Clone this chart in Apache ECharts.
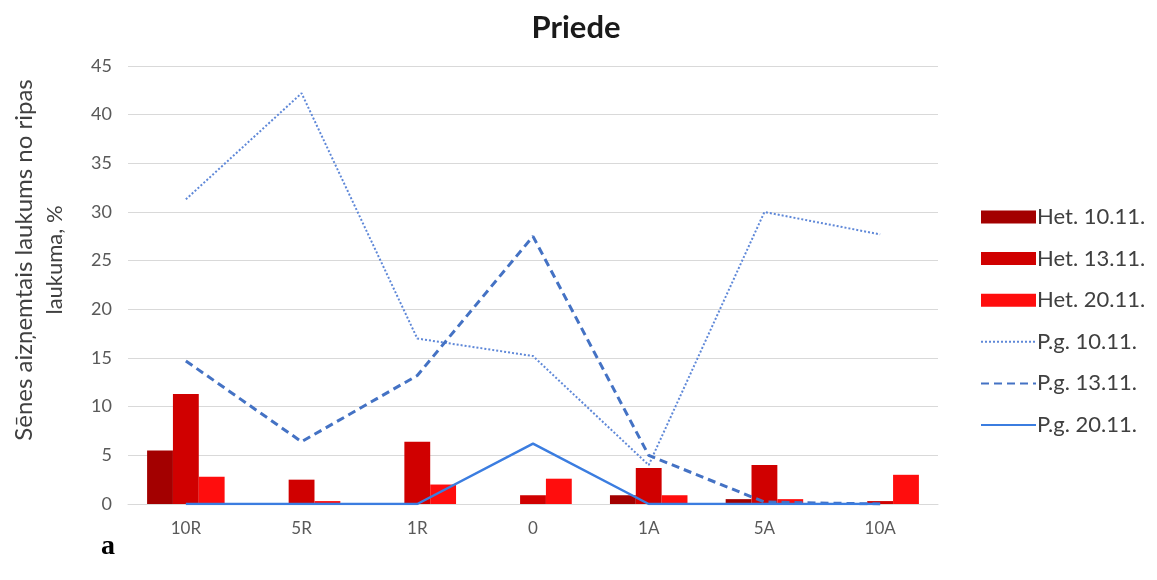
<!DOCTYPE html>
<html>
<head>
<meta charset="utf-8">
<script src="https://cdn.jsdelivr.net/npm/echarts@6/dist/echarts.min.js"></script>
<style>
html,body{margin:0;padding:0;background:#fff;}
#chart{width:1157px;height:580px;}
</style>
</head>
<body>
<div id="chart"></div>
<script>
const categories = ['10R', '5R', '1R', '0', '1A', '5A', '10A'];
const yTicks = [0, 5, 10, 15, 20, 25, 30, 35, 40, 45];

const het1011 = [5.5, 0, 0, 0, 0.9, 0.5, 0];
const het1311 = [11.3, 2.5, 6.4, 0.9, 3.7, 4.0, 0.3];
const het2011 = [2.8, 0.3, 2.0, 2.6, 0.9, 0.5, 3.0];

const pg1011 = [31.3, 42.2, 17.0, 15.2, 4.0, 30.0, 27.7];
const pg1311 = [14.7, 6.4, 13.2, 27.5, 5.0, 0.2, 0];
const pg2011 = [0, 0, 0, 6.2, 0, 0, 0];

const seriesNames = ['Het. 10.11.', 'Het. 13.11.', 'Het. 20.11.', 'P.g. 10.11.', 'P.g. 13.11.', 'P.g. 20.11.'];

const chart = echarts.init(document.getElementById('chart'));
const font = 'Lato, "Open Sans", sans-serif';
const barColors = ['#a30000', '#d00000', '#ff0d0d'];
const lineColors = ['#5f88d8', '#4472c4', '#3b7de0'];

chart.setOption({
  animation: false,
  backgroundColor: '#fff',
  title: {
    text: 'Priede',
    left: 571,
    top: 7,
    textAlign: 'center',
    textStyle: { fontFamily: font, fontWeight: 'bold', fontSize: 31, color: '#1a1a1a' }
  },
  legend: {
    orient: 'vertical',
    left: 975,
    top: 200,
    itemWidth: 55,
    itemHeight: 13,
    itemGap: 17.6,
    textStyle: { fontFamily: font, fontSize: 22, color: '#404040', lineHeight: 24, padding: [0, 0, 0, -4] },
    data: [
      { name: seriesNames[0], icon: 'rect' },
      { name: seriesNames[1], icon: 'rect' },
      { name: seriesNames[2], icon: 'rect' },
      { name: seriesNames[3], itemStyle: { opacity: 0 } },
      { name: seriesNames[4], itemStyle: { opacity: 0 } },
      { name: seriesNames[5], itemStyle: { opacity: 0 } }
    ]
  },
  grid: { left: 128, right: 219, top: 66, bottom: 76 },
  xAxis: {
    type: 'category',
    data: categories,
    axisTick: { show: false },
    axisLine: { lineStyle: { color: '#d9d9d9', width: 1 } },
    axisLabel: { fontFamily: font, fontSize: 17, color: '#595959', margin: 16 }
  },
  yAxis: {
    type: 'value',
    min: yTicks[0],
    max: yTicks[yTicks.length - 1],
    interval: 5,
    axisLine: { show: false },
    axisTick: { show: false },
    axisLabel: { fontFamily: font, fontSize: 18, color: '#595959', margin: 16 },
    splitLine: { lineStyle: { color: '#d9d9d9', width: 1 } }
  },
  graphic: [
    {
      type: 'text',
      x: 24, y: 260, rotation: Math.PI / 2,
      style: { text: 'Sēnes aizņemtais laukums no ripas', font: '24px Lato, "Open Sans", sans-serif', fill: '#404040', align: 'center', verticalAlign: 'middle' }
    },
    {
      type: 'text',
      x: 55, y: 260, rotation: Math.PI / 2,
      style: { text: 'laukuma, %', font: '22px Lato, "Open Sans", sans-serif', fill: '#404040', align: 'center', verticalAlign: 'middle' }
    },
    {
      type: 'text',
      left: 101, top: 533,
      style: { text: 'a', font: 'bold 28px "Liberation Serif", "DejaVu Serif", serif', fill: '#000' }
    }
  ],
  series: [
    { name: seriesNames[0], type: 'bar', data: het1011, barGap: '0%', barCategoryGap: '33%', itemStyle: { color: barColors[0] } },
    { name: seriesNames[1], type: 'bar', data: het1311, barGap: '0%', barCategoryGap: '33%', itemStyle: { color: barColors[1] } },
    { name: seriesNames[2], type: 'bar', data: het2011, barGap: '0%', barCategoryGap: '33%', itemStyle: { color: barColors[2] } },
    { name: seriesNames[3], type: 'line', data: pg1011, symbol: 'none', lineStyle: { color: lineColors[0], width: 2, type: 'dotted' }, itemStyle: { color: lineColors[0] } },
    { name: seriesNames[4], type: 'line', data: pg1311, symbol: 'none', lineStyle: { color: lineColors[1], width: 3, type: [8, 5] }, itemStyle: { color: lineColors[1] } },
    { name: seriesNames[5], type: 'line', data: pg2011, symbol: 'none', lineStyle: { color: lineColors[2], width: 2.5, type: 'solid' }, itemStyle: { color: lineColors[2] } }
  ]
});
</script>
</body>
</html>
